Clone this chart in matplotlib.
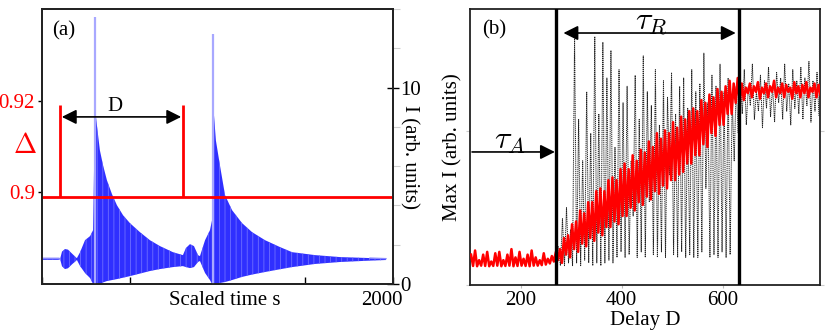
import numpy as np
import matplotlib
matplotlib.use("Agg")
import matplotlib.pyplot as plt
import matplotlib.transforms as mtrans

plt.rcParams['font.family'] = ['Liberation Serif', 'DejaVu Serif']
plt.rcParams['mathtext.fontset'] = 'cm'
plt.rcParams['hatch.linewidth'] = 0.6

# ---------------- Panel (a) data ----------------
# envelope of the oscillating intensity I(s)
t_env = [0, 97, 103, 114, 131, 148, 171, 194, 199, 217, 245, 274, 291,
         302, 313, 330, 348, 370, 399, 427, 462, 501, 558, 615, 672, 746, 803,
         820, 843, 866, 889, 900, 929, 957, 969,
         980, 991, 1014, 1043, 1083, 1140, 1197, 1271, 1356, 1425, 1556, 1698, 1869, 1960]
I_upper = [1.31, 1.31, 1.27, 1.65, 1.78, 1.75, 1.55, 1.35, 1.32, 1.62, 2.23, 2.44, 2.74,
           8.98, 8.07, 6.80, 6.04, 5.28, 4.57, 4.01, 3.50, 3.10, 2.64, 2.23, 1.93, 1.62, 1.47,
           1.83, 2.03, 1.93, 1.47, 1.42, 2.23, 2.74, 3.25,
           8.58, 7.30, 6.04, 4.52, 3.76, 3.10, 2.64, 2.23, 1.88, 1.62, 1.47, 1.37, 1.32, 1.29]
I_lower = [1.23, 1.23, 1.27, 0.90, 0.76, 0.80, 1.00, 1.18, 1.22, 0.91, 0.56, 0.30, 0.0,
           0.0, 0.0, 0.0, 0.08, 0.15, 0.2, 0.25, 0.32, 0.40, 0.53, 0.66, 0.76, 0.86, 0.91,
           0.86, 0.81, 0.86, 1.12, 1.17, 0.56, 0.2, 0.0,
           0.0, 0.02, 0.05, 0.1, 0.2, 0.36, 0.48, 0.61, 0.75, 0.86, 1.02, 1.12, 1.19, 1.22]
spike_t = [302, 976]
spike_I = [13.6, 12.74]

delta_level = 0.8989
delta_top = 0.9191
D_start, D_end = 103, 803
arrow_y_a = 0.9165

a_xticks = [0, 500, 1000, 1500, 2000]
a_xticklabels = ['', '', '', '', '2000']
a_left_ticks = [0.9, 0.92]
a_left_labels = ['0.9', '0.92']
a_right_major = [0, 10]
a_right_minor = [2, 4, 6, 8, 12, 14]

# ---------------- Panel (b) data ----------------
b_xticks = [200, 400, 600]
b_yticks = [0, 55.8]
tau_A_line = 271
tau_R_line = 633

# black dotted series: peak / trough pairs every 8 units of D starting at 275
black_D = np.arange(275, 788, 8)
black_hi = [14, 24, 28, 20, 90, 60, 45, 70, 55, 90, 62, 88, 75, 85,
            50, 78, 66, 72, 45, 76, 60, 83, 70, 65, 78, 58, 74, 68, 77, 62,
            72, 75, 64, 78, 70, 73, 84, 66, 76, 72, 80, 70, 75, 68, 72,
            74, 78, 72, 80, 70, 76, 74, 79, 72, 77, 75, 80, 73, 78, 74,
            79, 75, 81, 74, 77]
black_lo = [7, 7, 8, 7, 8, 7, 9, 8, 7, 8, 7, 8, 9, 8,
            10, 12, 10, 11, 25, 10, 12, 10, 30, 11, 10, 12, 10, 40, 11, 10,
            12, 10, 11, 10, 10, 12, 35, 10, 11, 10, 12, 10, 11, 45, 55,
            62, 58, 65, 60, 63, 57, 64, 61, 59, 66, 60, 63, 58, 64, 62,
            60, 65, 59, 63, 61]

# red series: peak / trough pairs every 8 units of D starting at 102
red_D = np.arange(102, 791, 8)
red_hi = [11, 12.5, 9, 11, 12, 8.5, 11.5, 12, 9, 11, 13, 10, 12, 9.5, 11, 12.5, 10, 9, 11.5, 9.5, 10.5, 12,
          13, 17, 18, 22, 23, 27, 26, 30, 30, 34, 35, 34, 38, 39, 38, 42, 44, 42, 47, 45, 49, 48,
          52, 50, 55, 53, 56, 55, 59, 57, 61, 60, 63, 64, 63, 67, 66, 69, 68, 71, 70, 72, 74, 73, 75,
          73, 71.5, 73, 72, 73.5, 71.5, 73, 72, 74, 71.5, 73, 72.5, 71.5, 73.5, 72, 72.5, 73.5, 71.5, 73, 72.5]
red_lo = [6.9, 6.8, 7.0, 6.9, 6.8, 6.9, 7.0, 6.8, 6.9, 7.0, 6.8, 6.9, 7.0, 6.9, 6.8, 7.0, 7, 7.2, 7.4, 7.8, 8.5, 9,
          8, 11, 10, 13, 12, 15, 14, 17, 16, 19, 18, 21, 21, 23, 22, 25, 25, 28, 27, 30, 29, 32,
          31, 34, 33, 36, 35, 38, 38, 40, 41, 44, 44, 47, 47, 51, 50, 55, 54, 58, 58, 62, 62, 66, 66,
          67, 69.5, 68, 70, 67.5, 69.5, 68, 70, 68, 69.5, 68, 70, 67.5, 69.5, 68, 69.5, 68, 70, 68, 69]


def zigzag(D, hi, lo, half):
    n = min(len(D), len(hi), len(lo))
    x = np.empty(2 * n)
    y = np.empty(2 * n)
    x[0::2] = np.asarray(D[:n])
    x[1::2] = np.asarray(D[:n]) + half
    y[0::2] = hi[:n]
    y[1::2] = lo[:n]
    return x, y


fig = plt.figure(figsize=(8.3, 3.32), dpi=100)
FS = 15

# ---------------- Panel (a) ----------------
axI = fig.add_axes([0.0506, 0.1446, 0.4229, 0.8283])
axD = axI.twinx()

axI.set_xlim(0, 2000)
axI.set_ylim(0, 14)
axI.fill_between(t_env, I_lower, I_upper, facecolor='#2f2fff', edgecolor='#6e6eff',
                 hatch='|||', lw=0, zorder=2)
axI.plot(t_env[:3], I_upper[:3], color='#8c8cff', lw=1.0, zorder=2)
axI.plot(t_env[-2:], I_upper[-2:], color='#8c8cff', lw=1.0, zorder=2)
axI.vlines(spike_t, 0, spike_I, color='#a8a8ff', lw=1.6, zorder=3)
axI.yaxis.tick_right()
axI.yaxis.set_label_position('right')
axI.set_yticks(a_right_major)
axI.set_yticklabels([str(v) for v in a_right_major], fontsize=FS)
axI.set_yticks(a_right_minor, minor=True)
axI.tick_params(axis='y', which='major', direction='inout', length=8, width=1, pad=1,
                left=False, right=True, labelleft=False, labelright=True)
axI.tick_params(axis='y', which='minor', direction='out', length=5, width=0.8, color='#d0d0d0',
                left=False, right=True)
axI.set_ylabel('I (arb. units)', fontsize=FS, rotation=270, va='center')
axI.yaxis.set_label_coords(1.046, 0.462)
axI.set_xticks(a_xticks)
axI.set_xticklabels(a_xticklabels, fontsize=FS)
axI.tick_params(axis='x', direction='in', length=5, width=1, pad=5)
off = mtrans.ScaledTranslation(-0.11, 0, fig.dpi_scale_trans)
for lab in axI.get_xticklabels():
    lab.set_transform(lab.get_transform() + off)
axI.text(0.52, -0.025, 'Scaled time s', transform=axI.transAxes, ha='center', va='top', fontsize=FS)
for s in axI.spines.values():
    s.set_linewidth(1.3)
    s.set_color('#222222')

axD.yaxis.tick_left()
axD.yaxis.set_label_position('left')
axD.set_ylim(0.8798, 0.9402)
axD.set_xlim(0, 2000)
axD.set_yticks(a_left_ticks)
axD.set_yticklabels(a_left_labels, fontsize=FS, color='red')
axD.tick_params(axis='y', direction='out', length=3, width=1, pad=2,
                left=True, right=False, labelleft=True, labelright=False)
axD.axhline(delta_level, color='red', lw=2.0)
axD.vlines([D_start, D_end], delta_level, delta_top, color='red', lw=2.0)
axD.annotate('', xy=(D_end - 10, arrow_y_a), xytext=(D_start + 10, arrow_y_a),
             arrowprops=dict(arrowstyle='<|-|>', color='black', lw=1.2, mutation_scale=22,
                             shrinkA=0, shrinkB=0))
axD.text((D_start + D_end) / 2 - 40, delta_top - 0.0004, 'D', ha='center', va='center', fontsize=FS)
axD.text(-0.048, 0.50, r'$\Delta$', transform=axD.transAxes, color='red', fontsize=20,
         ha='center', va='center')
axD.text(0.03, 0.92, '(a)', transform=axD.transAxes, fontsize=FS, ha='left', va='center')
for s in axD.spines.values():
    s.set_linewidth(1.3)
    s.set_color('#222222')

# ---------------- Panel (b) ----------------
axb = fig.add_axes([0.5663, 0.1416, 0.4217, 0.8313])
axb.set_xlim(100, 793)
axb.set_ylim(0, 100)
bx, by = zigzag(black_D, black_hi, black_lo, 4)
axb.plot(bx, by, color='#222222', lw=0.7, ls=(0, (1.2, 0.8)), zorder=2)
rx, ry = zigzag(red_D, red_hi, red_lo, 4)
axb.plot(rx, ry, color='#ff0000', lw=1.8, zorder=3)
axb.axvline(tau_A_line, color='black', lw=2.4, zorder=4)
axb.axvline(tau_R_line, color='black', lw=2.4, zorder=4)
axb.annotate('', xy=(626, 91.3), xytext=(285, 91.3),
             arrowprops=dict(arrowstyle='<|-|>', color='black', lw=1.2, mutation_scale=22,
                             shrinkA=0, shrinkB=0))
axb.annotate('', xy=(268, 48.2), xytext=(104, 48.2),
             arrowprops=dict(arrowstyle='-|>', color='black', lw=1.2, mutation_scale=22,
                             shrinkA=0, shrinkB=0))
axb.text(459, 95.0, r'$\tau_R$', ha='center', va='center', fontsize=23)
axb.text(180, 52.0, r'$\tau_A$', ha='center', va='center', fontsize=23)
axb.text(0.035, 0.925, '(b)', transform=axb.transAxes, fontsize=FS, ha='left', va='center')
axb.set_xticks(b_xticks)
axb.set_xticklabels([str(v) for v in b_xticks], fontsize=FS)
axb.tick_params(axis='x', direction='out', length=2, width=0.8, color='#bbbbbb', pad=2)
axb.set_yticks(b_yticks)
axb.set_yticklabels([])
axb.tick_params(axis='y', direction='out', length=3, width=0.8, color='#cccccc',
                left=True, right=True)
axb.set_xlabel('Delay D', fontsize=FS, labelpad=1)
axb.set_ylabel('Max I (arb. units)', fontsize=FS, va='center')
axb.yaxis.set_label_coords(-0.049, 0.50)
for s in axb.spines.values():
    s.set_linewidth(1.3)
    s.set_color('#222222')

fig.savefig('out.png', dpi=100)
